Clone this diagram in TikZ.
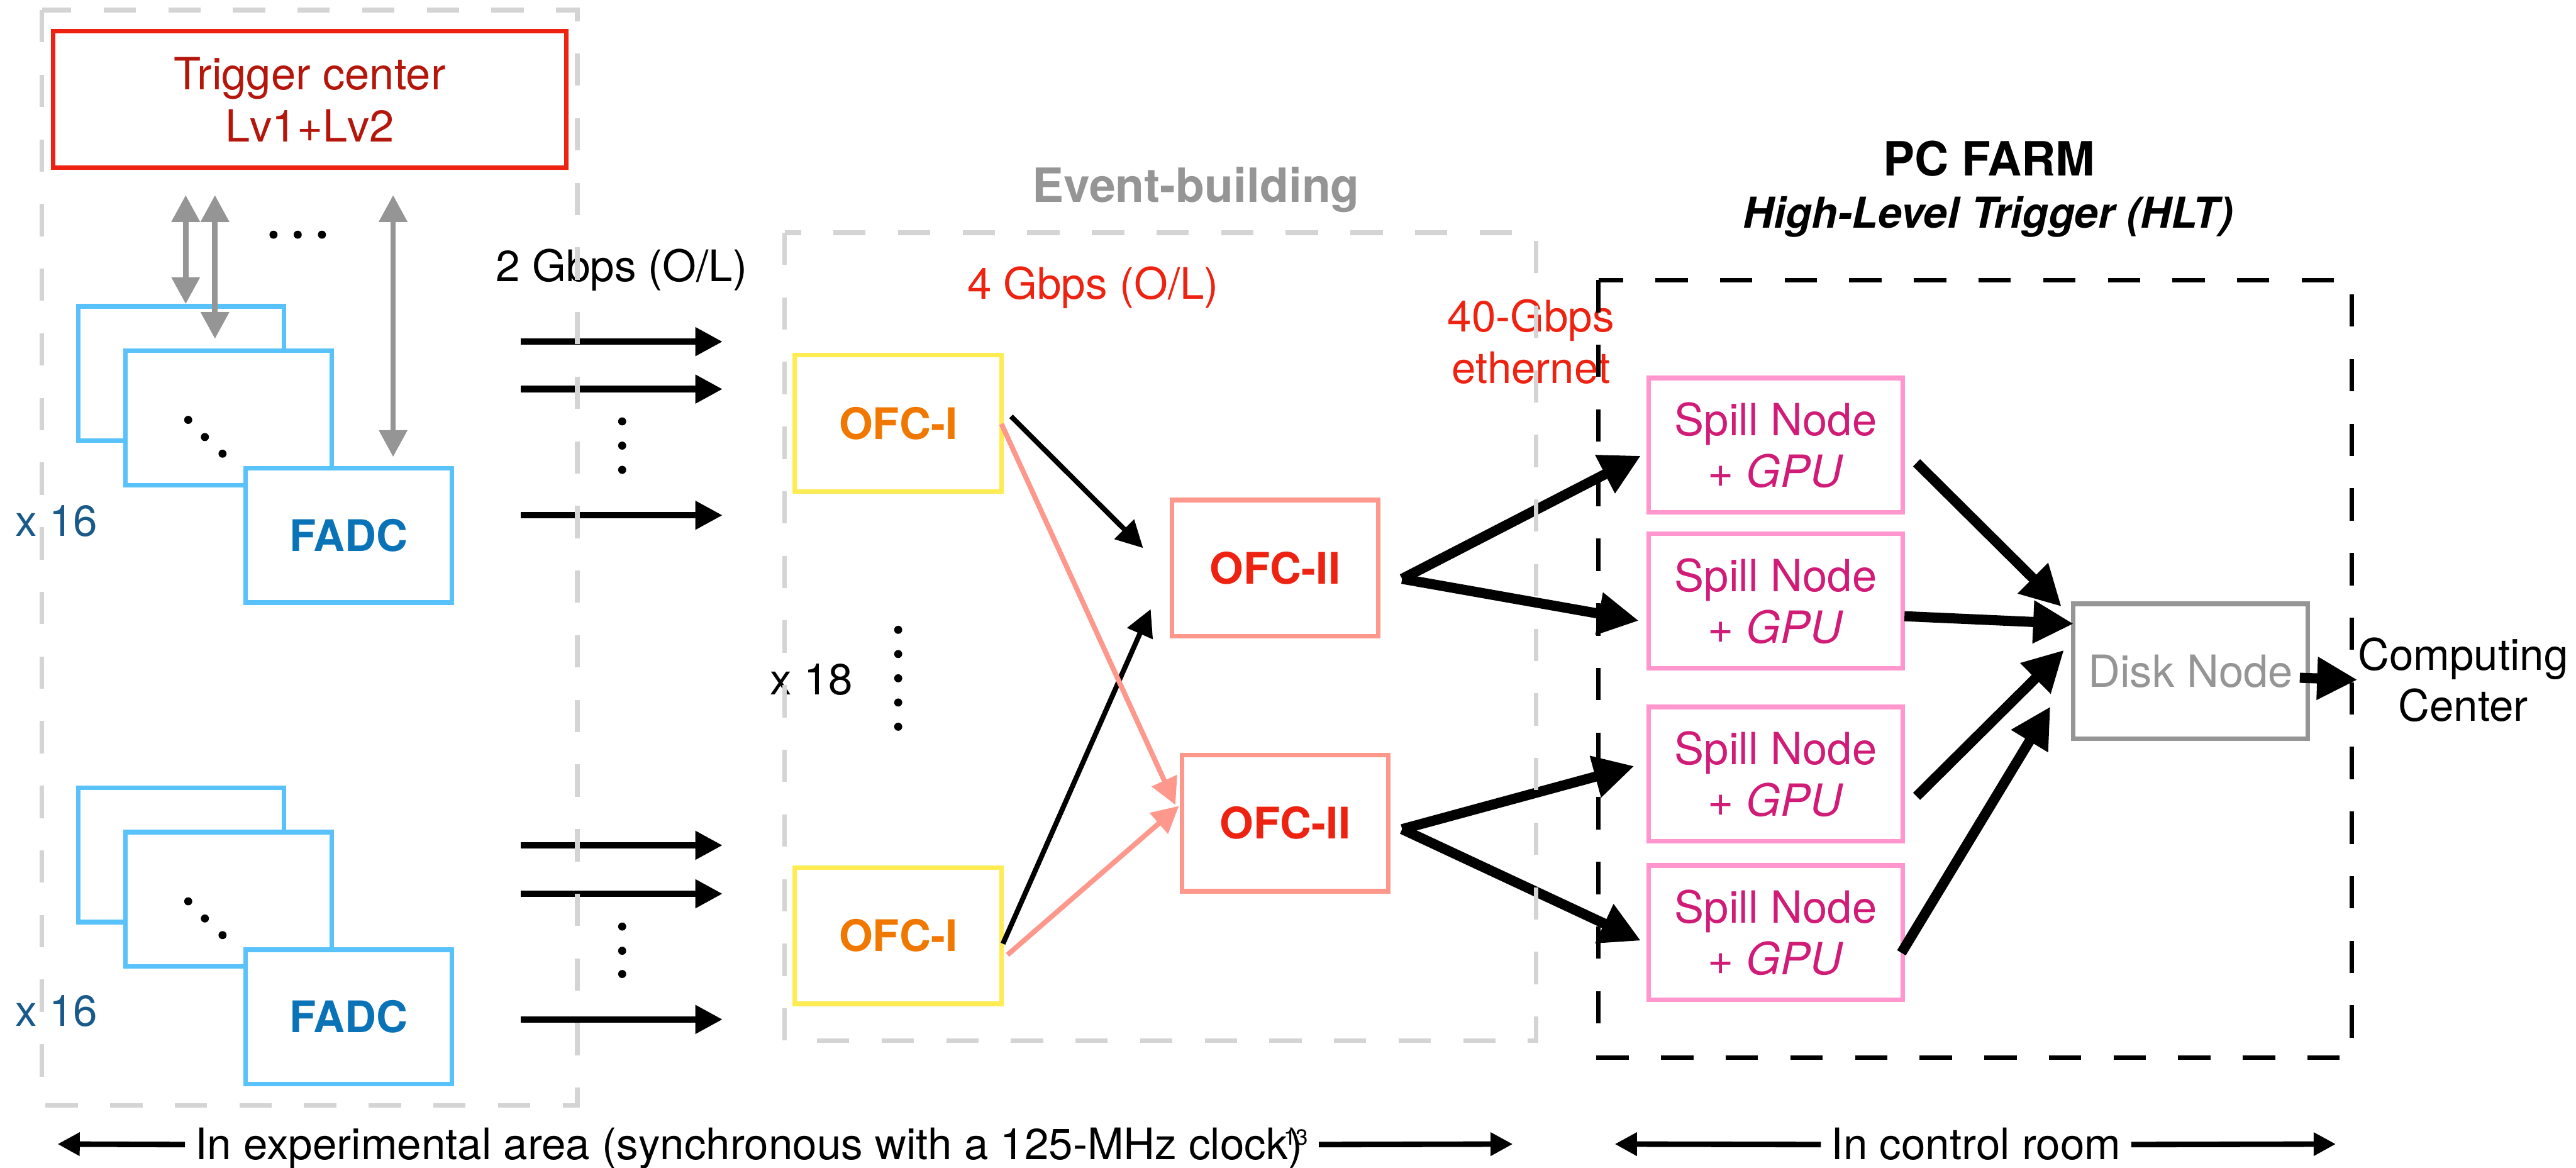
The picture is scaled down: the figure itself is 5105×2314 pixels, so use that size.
\documentclass[tikz,border=0pt]{standalone}
\usepackage{fontspec}
\setmainfont{TeX Gyre Heros}
\usetikzlibrary{arrows.meta}

\definecolor{areagray}{HTML}{D4D4D4}
\definecolor{trigred}{HTML}{EE2211}
\definecolor{trigtext}{HTML}{B5160C}
\definecolor{fadcblue}{HTML}{5AC2FB}
\definecolor{fadctext}{HTML}{0A72B6}
\definecolor{multblue}{HTML}{1A5A8A}
\definecolor{syncgray}{HTML}{959595}
\definecolor{ofcyellow}{HTML}{FFEB52}
\definecolor{ofcorange}{HTML}{F07800}
\definecolor{ofcsalmon}{HTML}{FE988C}
\definecolor{ratered}{HTML}{EE2211}
\definecolor{spillpink}{HTML}{FF96CE}
\definecolor{spilltext}{HTML}{D01B77}

\newcommand\lblfont{\fontsize{24.5}{29}\selectfont}
\newcommand\headfont{\fontsize{26.6}{31}\selectfont\bfseries}

\tikzset{
	area/.style={line width=0.09cm, dash pattern=on 0.64cm off 0.64cm},
	lbl/.style={inner sep=0pt, align=center, font=\lblfont},
	unit/.style={draw, fill=white, line width=0.09cm, inner sep=0pt, align=center, font=\lblfont},
	trigbox/.style={unit, draw=trigred, text=trigtext, minimum width=10.16cm, minimum height=2.70cm, font=\fontsize{25}{29.6}\selectfont},
	fadcbox/.style={unit, draw=fadcblue, text=fadctext, minimum width=4.08cm, minimum height=2.66cm, font=\lblfont\bfseries},
	ofcI/.style={unit, draw=ofcyellow, text=ofcorange, minimum width=4.10cm, minimum height=2.70cm, font=\lblfont\bfseries},
	ofcII/.style={unit, draw=ofcsalmon, text=ratered, minimum width=4.08cm, minimum height=2.70cm, font=\lblfont\bfseries},
	spillbox/.style={unit, draw=spillpink, text=spilltext, minimum width=5.03cm, minimum height=2.66cm, font=\fontsize{25}{29}\selectfont},
	diskbox/.style={unit, draw=syncgray, text=syncgray, minimum width=4.64cm, minimum height=2.67cm, font=\fontsize{25}{29}\selectfont},
	spanlbl/.style={lbl, text height=0.6cm, text depth=0cm, inner xsep=0.2cm},
	sync/.style={draw=syncgray, line width=0.11cm, shorten <=0.5cm, {Triangle[length=0.53cm,width=0.54cm]}-{Triangle[length=0.53cm,width=0.54cm]}},
	link/.style={line width=0.13cm, -{Triangle[length=0.54cm,width=0.54cm]}},
	ofc/.style={line width=0.1cm, -{Triangle[length=0.53cm,width=0.53cm]}},
	fat/.style={line width=0.2cm, -{Triangle[length=0.8cm,width=0.8cm]}},
	span/.style={line width=0.11cm, -{Triangle[length=0.44cm,width=0.44cm]}},
}

\begin{document}
\begin{tikzpicture}[x=0.01cm,y=-0.01cm]
	\useasboundingbox (0,0) rectangle (5105,2314);

	%trigger center
	\node[trigbox] (trig) at (614,197) {Trigger center\\Lv1+Lv2};

	%FADC stacks
	\node[fadcbox] (back1) at (359,740) {};
	\node[fadcbox] (mid1) at (453,828) {};
	\node[fadcbox] (fadc1) at (691,1061) {FADC};
	\node[fadcbox] (back2) at (359,1694) {};
	\node[fadcbox] (mid2) at (453,1782) {};
	\node[fadcbox] (fadc2) at (691,2015) {FADC};
	\foreach \dy in {0,954}
		\foreach \px/\py in {373/832,406/866,441/899}
			\fill (\px,\py+\dy) circle (0.08cm);
	\node[lbl,text=multblue,anchor=base] (mult1) at (112,1063) {x 16};
	\node[lbl,text=multblue,anchor=base] (mult2) at (112,2033) {x 16};

	%trigger links
	\draw[sync] ([xshift=0.09cm]back1.north |- trig.south) -- ([xshift=0.09cm]back1.north);
	\draw[sync,shorten >=0.19cm] ([xshift=-0.27cm]mid1.north |- trig.south) -- ([xshift=-0.27cm]mid1.north);
	\draw[sync,shorten >=0.18cm] ([xshift=0.88cm]fadc1.north |- trig.south) -- ([xshift=0.88cm]fadc1.north);
	\foreach \px in {542,590,638}
		\fill (\px,465) circle (0.08cm);

	%optical links
	\node[lbl,anchor=base] (gbps2) at (1232,558) {2 Gbps (O/L)};
	\foreach \y [count=\i] in {677,771,1021,1675,1771,2020}{
		\coordinate (src\i) at (1032,\y);
		\coordinate (dst\i) at (1432,\y);
		\draw[link] (src\i) -- (dst\i);
	}
	\foreach \y in {835,883,931,1836,1884,1930}
		\fill (1233,\y) circle (0.08cm);

	%event-building
	\node[lbl,anchor=base,font=\headfont,text=syncgray] (evb) at (2370,401) {Event-building};
	\node[lbl,anchor=base,text=ratered] (gbps4) at (2166,593) {4 Gbps (O/L)};
	\node[ofcI] (ofcIa) at (1780,839) {OFC-I};
	\node[ofcI] (ofcIb) at (1780,1854) {OFC-I};
	\node[ofcII] (ofcIIa) at (2527,1126) {OFC-II};
	\node[ofcII] (ofcIIb) at (2547,1631) {OFC-II};
	\node[lbl,anchor=base] (mult3) at (1608,1377) {x 18};
	\foreach \y in {1248,1296,1344,1392,1440}
		\fill (1780,\y) circle (0.08cm);
	\draw[ofc] ([shift={(14,-14)}]ofcIa.east) -- ([shift={(-53,-40)}]ofcIIa.west);
	\draw[ofc] ([shift={(-2,16)}]ofcIb.east) -- ([shift={(-38,81)}]ofcIIa.west);
	\draw[ofc,ofcsalmon] ([shift={(-5,1)}]ofcIa.east) -- ([shift={(-9,-36)}]ofcIIb.west);
	\draw[ofc,ofcsalmon] ([shift={(7,38)}]ofcIb.east) -- ([shift={(-2,-34)}]ofcIIb.west);

	%PC farm
	\node[lbl,anchor=base,font=\headfont] (farm) at (3942,348) {PC FARM};
	\node[lbl,anchor=base,font=\fontsize{24}{29}\selectfont\bfseries\itshape] (hlt) at (3940,452) {High-Level Trigger (HLT)};
	\node[lbl,text=ratered] (eth) at (3034,677) {40-Gbps\\ethernet};
	\node[spillbox] (spill1) at (3519,882) {Spill Node\\+ \textit{GPU}};
	\node[spillbox] (spill2) at (3519,1191) {Spill Node\\+ \textit{GPU}};
	\node[spillbox] (spill3) at (3519,1534) {Spill Node\\+ \textit{GPU}};
	\node[spillbox] (spill4) at (3519,1848) {Spill Node\\+ \textit{GPU}};
	\node[diskbox] (disk) at (4341,1330) {Disk Node};
	\node[lbl,anchor=west] (comp) at (4672,1347) {Computing\\Center};

	\draw[fat] ([shift={(43,21)}]ofcIIa.east) -- ([shift={(-11,21)}]spill1.west);
	\draw[fat] ([shift={(43,21)}]ofcIIa.east) -- ([shift={(-15,39)}]spill2.west);
	\draw[fat] ([shift={(23,12)}]ofcIIb.east) -- ([shift={(-24,-16)}]spill3.west);
	\draw[fat] ([shift={(23,12)}]ofcIIb.east) -- ([shift={(-11,16)}]spill4.west);
	\draw[fat] ([shift={(23,35)}]spill1.east) -- ([shift={(-19,-128)}]disk.west);
	\draw[fat] ([shift={(-1,30)}]spill2.east) -- ([shift={(5,-94)}]disk.west);
	\draw[fat] ([shift={(23,44)}]spill3.east) -- ([shift={(-14,-42)}]disk.west);
	\draw[fat] ([shift={(-7,40)}]spill4.east) -- ([shift={(-41,70)}]disk.west);
	\draw[fat] ([shift={(-20,13)}]disk.east) -- (comp.west);

	%dashed areas
	\draw[area,areagray] (83,20) rectangle (1144,2190);
	\draw[area,areagray] (1555,461) rectangle (3044,2062);
	\draw[area] (3168,555) rectangle (4661,2096);

	%locations
	\node[spanlbl] (exp) at (1490,2268) {In experimental area (synchronous with a 125-MHz clock)\kern-0.43em\raisebox{0.34em}{\fontsize{12.4}{13}\selectfont 13}};
	\coordinate (expL) at (114,2267);
	\coordinate (expR) at (2998,2267);
	\draw[span] (exp.west) -- (expL);
	\draw[span] (exp.east) -- (expR);
	\node[spanlbl] (ctrl) at (3916,2268) {In control room};
	\coordinate (ctrlL) at (3200,2267);
	\coordinate (ctrlR) at (4629,2267);
	\draw[span] (ctrl.west) -- (ctrlL);
	\draw[span] (ctrl.east) -- (ctrlR);
\end{tikzpicture}
\end{document}
